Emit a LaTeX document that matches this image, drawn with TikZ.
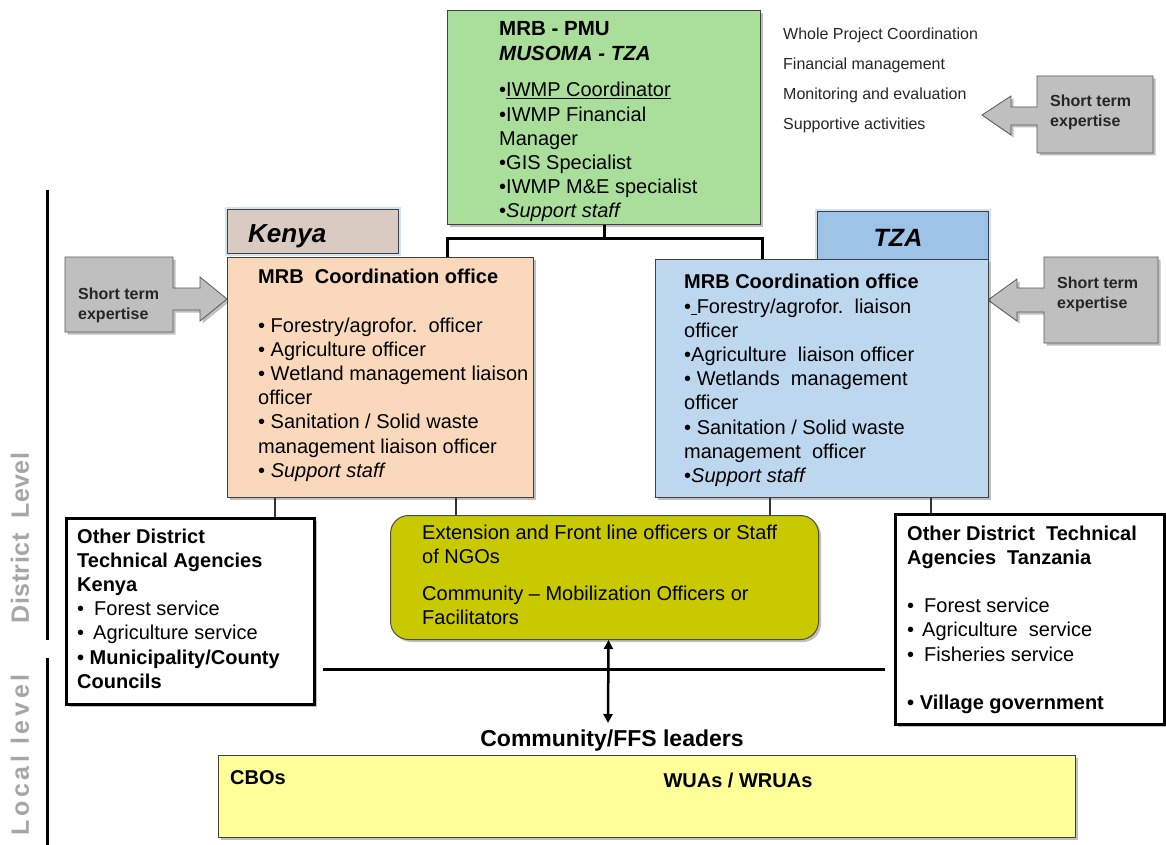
\documentclass[tikz,border=0pt]{standalone}
\usepackage{fontspec}
\setmainfont{Liberation Sans}
\newfontfamily\lvlfontA[LetterSpace=2]{Liberation Sans Bold}
\newfontfamily\lvlfontB[LetterSpace=15]{Liberation Sans Bold}
\usetikzlibrary{shadows,arrows.meta}
\definecolor{pmugreen}{HTML}{A9DF9A}
\definecolor{kenlab}{HTML}{D9CBC1}
\definecolor{kenbox}{HTML}{FAD8BB}
\definecolor{tzalab}{HTML}{9DC3E6}
\definecolor{tzabox}{HTML}{BDD7EE}
\definecolor{midol}{HTML}{C9C900}
\definecolor{locyel}{HTML}{FFFF99}
\definecolor{arrgray}{HTML}{BFBFBF}
\definecolor{lvlgray}{HTML}{A6A6A6}
\definecolor{glowblue}{HTML}{CFE3F5}
\newcommand\ml[1]{\vtop{\halign{##\hfil\cr#1\crcr}}}
\newcommand\bodyfs{\fontsize{20}{24.2}\selectfont}
\begin{document}
\begin{tikzpicture}[x=1pt,y=-1pt,
  shad/.style={drop shadow={shadow xshift=2.5pt,shadow yshift=-2.5pt,fill=black,opacity=0.25}},
  box/.style={anchor=north west, inner sep=0pt, draw=black!75, line width=1pt, shad},
  glow/.style={preaction={draw=glowblue, line width=5pt}},
  txt/.style={anchor=base west, inner sep=0pt, font=\bodyfs, text=black},
  btxt/.style={anchor=base west, inner sep=0pt, font=\bfseries\fontsize{16}{20}\selectfont, text=black!85},
  thickln/.style={line width=3pt, line join=miter},
  thinln/.style={line width=1.1pt, draw=black!80},
  sarrow/.style={fill=arrgray, draw=black!65, line width=0.8pt, shad}]
\useasboundingbox (0,0) rectangle (1166,845);

% ---------- PMU ----------
\node[box, fill=pmugreen, minimum width=313pt, minimum height=214pt] (pmu) at (447,10) {};
\node[txt, font=\bfseries\fontsize{20.5}{25}\selectfont] (pmuhead) at (499,36)
  {\ml{MRB - PMU\cr \itshape MUSOMA - TZA\cr}};
\node[txt] (pmubody) at (499,97)
  {\ml{•\underline{IWMP Coordinator}\cr •IWMP Financial\cr Manager\cr •GIS Specialist\cr •IWMP M\&E specialist\cr •\itshape Support staff\cr}};

% ---------- roles text ----------
\node[anchor=base west, inner sep=0pt, font=\fontsize{16}{30}\selectfont, text=black!85] (roles) at (783,40)
  {\ml{Whole Project Coordination\cr Financial management\cr Monitoring and evaluation\cr Supportive activities\cr}};

% ---------- short term arrows ----------
\path[sarrow] (1037,76) -- (1153,76) -- (1153,153) -- (1037,153) -- (1037,125) -- (1011,125) -- (1011,135)
  -- (982,115) -- (1011,96) -- (1011,107) -- (1037,107) -- cycle;
\node[btxt] (ste1) at (1050,107) {\ml{Short term\cr expertise\cr}};

\path[sarrow] (65,257) -- (173,257) -- (173,288) -- (200,288) -- (200,277) -- (227,299) -- (200,321)
  -- (200,310) -- (173,310) -- (173,332) -- (65,332) -- cycle;
\node[btxt] (ste2) at (78,299) {\ml{Short term\cr expertise\cr}};

\path[sarrow] (1044,257) -- (1158,257) -- (1158,343) -- (1044,343) -- (1044,312) -- (1017,312) -- (1017,321)
  -- (988,300) -- (1017,279) -- (1017,288) -- (1044,288) -- cycle;
\node[btxt] (ste3) at (1057,288) {\ml{Short term\cr expertise\cr}};

% ---------- Kenya ----------
\node[box, glow, fill=kenlab, minimum width=171pt, minimum height=44pt] (klab) at (227,209) {};
\node[anchor=base west, inner sep=0pt, font=\bfseries\itshape\fontsize{26}{26}\selectfont] (klabt) at (248,242) {Kenya};
\node[box, fill=kenbox, minimum width=306pt, minimum height=240pt] (kbox) at (227,257) {};
\node[txt, font=\bfseries\fontsize{20}{24}\selectfont] (kboxhead) at (258,283) {MRB\ \ Coordination office};
\node[txt] (kboxbody) at (258,332)
  {\ml{• Forestry/agrofor.\ \ officer\cr • Agriculture officer\cr • Wetland management liaison\cr officer\cr • Sanitation / Solid waste\cr management liaison officer\cr • \itshape Support staff\cr}};

% ---------- TZA ----------
\node[box, glow, fill=tzalab, minimum width=171pt, minimum height=48pt] (tlab) at (817,211) {};
\node[anchor=base, inner sep=0pt, font=\bfseries\itshape\fontsize{25}{25}\selectfont] (tlabt) at (898,246) {TZA};
\node[box, fill=tzabox, minimum width=333pt, minimum height=238pt] (tbox) at (655,259) {};
\node[txt, font=\bfseries\fontsize{20}{24}\selectfont] (tboxhead) at (684,288) {MRB Coordination office};
\node[txt] (tboxbody) at (684,313)
  {\ml{•\underline{\ }Forestry/agrofor.\ \ liaison\cr officer\cr •Agriculture\ \ liaison officer\cr • Wetlands\ \ management\cr officer\cr • Sanitation / Solid waste\cr management\ \ officer\cr •\itshape Support staff\cr}};

% ---------- connectors from PMU ----------
\coordinate (bus) at ([yshift=-13pt]pmu.south);
\draw[thickln] (pmu.south) -- (bus);
\draw[thickln] ([xshift=220pt]kbox.north west) |- (bus) -| ([xshift=107pt]tbox.north west);

% ---------- district boxes ----------
\node[box, fill=white, draw=black, line width=3pt, minimum width=248pt, minimum height=186pt] (lbox) at (65,517) {};
\node[txt] (lboxt) at (77,543)
  {\ml{\bfseries Other District\cr \bfseries Technical Agencies\cr \bfseries Kenya\cr •\hspace{10pt}Forest service\cr •\hspace{9pt}Agriculture service\cr \bfseries • Municipality/County\cr \bfseries Councils\cr}};

\node[box, fill=white, draw=black, line width=3pt, minimum width=269pt, minimum height=210pt] (rbox) at (894,513) {};
\node[txt] (rboxt) at (907,540)
  {\ml{\bfseries Other District\ \ Technical\cr \bfseries Agencies\ \ Tanzania\cr \cr •\hspace{10pt}Forest service\cr •\hspace{8pt}Agriculture\ \ service\cr •\hspace{10pt}Fisheries service\cr \cr \bfseries • Village government\cr}};

\node[box, fill=midol, draw=black!70, rounded corners=18pt, minimum width=428pt, minimum height=124pt] (mid) at (390,515) {};
\node[txt] (midt1) at (422,539) {\ml{Extension and Front line officers or Staff\cr of NGOs\cr}};
\node[txt] (midt2) at (422,600) {\ml{Community – Mobilization Officers or\cr Facilitators\cr}};

% thin connectors
\draw[thinln] ([xshift=48pt]kbox.south west) -- ([xshift=48pt]kbox.south west |- lbox.north);
\draw[thinln] ([xshift=229pt]kbox.south west) -- ([xshift=229pt]kbox.south west |- mid.north);
\draw[thinln] ([xshift=115pt]tbox.south west) -- ([xshift=115pt]tbox.south west |- mid.north);
\draw[thinln] ([xshift=276pt]tbox.south west) -- ([xshift=276pt]tbox.south west |- rbox.north);

% horizontal line between district boxes
\coordinate (hl) at (323,669);
\coordinate (hr) at (885,669);
\draw[line width=3pt] (hl) -- (hr);

% ---------- local level ----------
\node[anchor=base, inner sep=0pt, font=\bfseries\fontsize{23}{24}\selectfont] (cffs) at (612,746) {Community/FFS leaders};
\coordinate (arrbot) at (608,723);
\draw[line width=2.5pt, {Triangle[length=9pt,width=9pt]}-{Triangle[length=9pt,width=9pt]}] ([xshift=4pt]mid.south) -- (arrbot);

\node[box, fill=locyel, draw=black!75, minimum width=857pt, minimum height=82pt] (loc) at (218,755) {};
\node[anchor=base west, inner sep=0pt, font=\bfseries\fontsize{20}{24}\selectfont] (cbos) at (230,784) {CBOs};
\node[anchor=base, inner sep=0pt, font=\bfseries\fontsize{20}{24}\selectfont] (wuas) at (738,787) {WUAs / WRUAs};

% ---------- level axis ----------
\coordinate (ax1) at (47,190);
\coordinate (ax2) at (47,640);
\coordinate (ax3) at (47,658);
\coordinate (ax4) at (47,845);
\draw[line width=3pt] (ax1) -- (ax2);
\draw[line width=3pt] (ax3) -- (ax4);
\node[rotate=90, inner sep=0pt, text=lvlgray, font=\lvlfontA\fontsize{25}{25}\selectfont] (dlev) at (20,538) {District\ \ Level};
\node[rotate=90, inner sep=0pt, text=lvlgray, font=\lvlfontB\fontsize{25}{25}\selectfont] (llev) at (20,755) {Local level};
\end{tikzpicture}
\end{document}
